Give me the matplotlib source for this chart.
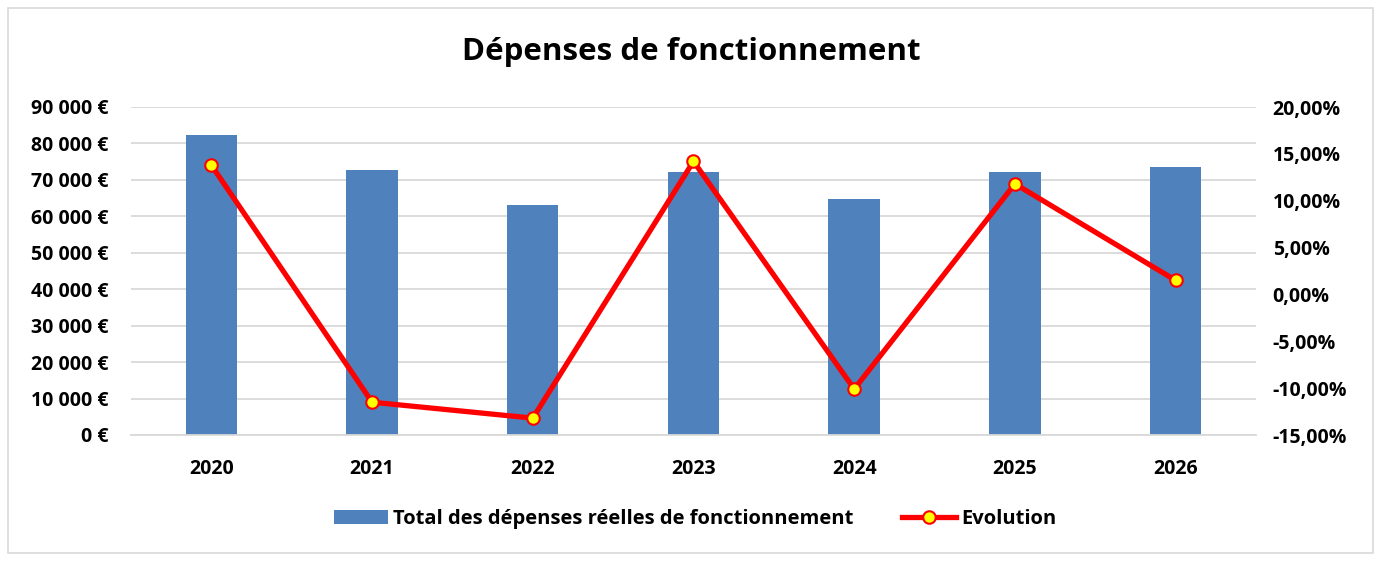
import matplotlib.pyplot as plt
from matplotlib.patches import Rectangle
from matplotlib.ticker import FuncFormatter, MultipleLocator

plt.rcParams['font.family'] = ['Open Sans', 'DejaVu Sans']
plt.rcParams['font.weight'] = 'bold'
plt.rcParams['font.stretch'] = 'normal'

# données
annees = ['2020', '2021', '2022', '2023', '2024', '2025', '2026']
depenses = [82300, 72700, 63100, 72200, 64800, 72200, 73500]
evolution = [13.8, -11.5, -13.2, 14.2, -10.1, 11.8, 1.5]

bleu = '#4f81bd'
gris = '#d9d9d9'

fig = plt.figure(figsize=(13.81, 5.61), dpi=100)
ax = fig.add_axes([131 / 1381, 1 - 435 / 561, 1125 / 1381, 328 / 561])

x = range(len(annees))
ax.bar(x, depenses, width=0.32, color=bleu, zorder=2,
       label='Total des dépenses réelles de fonctionnement')
ax.set_ylim(0, 90000)
ax.set_xlim(-0.5, len(annees) - 0.5)
ax.yaxis.set_major_locator(MultipleLocator(10000))
ax.yaxis.set_major_formatter(FuncFormatter(
    lambda v, p: f'{int(v):,} €'.replace(',', ' ')))
ax.grid(axis='y', color=gris, linewidth=1.3, zorder=0)
ax.set_xticks(list(x))
ax.set_xticklabels(annees)
for s in ax.spines.values():
    s.set_visible(False)
ax.spines['bottom'].set_visible(True)
ax.spines['bottom'].set_color(gris)
ax.spines['bottom'].set_linewidth(1.3)
ax.tick_params(length=0, labelsize=14)
ax.tick_params(axis='x', pad=17)
ax.tick_params(axis='y', pad=16)

ax2 = ax.twinx()
ax2.plot(x, evolution, color='#ff0000', linewidth=3.8, marker='o', markersize=9,
         markerfacecolor='#ffff00', markeredgecolor='#ff0000',
         markeredgewidth=1.5, zorder=3, label='Evolution')
ax2.set_ylim(-15, 20)
ax2.yaxis.set_major_locator(MultipleLocator(5))
ax2.yaxis.set_major_formatter(FuncFormatter(
    lambda v, p: f'{v:.2f}%'.replace('.', ',')))
for s in ax2.spines.values():
    s.set_visible(False)
ax2.tick_params(length=0, labelsize=14, pad=12)

fig.text(691 / 1381, 1 - 52 / 561, 'Dépenses de fonctionnement',
         ha='center', va='center', fontsize=22.5, fontweight='bold')

h1, l1 = ax.get_legend_handles_labels()
h2, l2 = ax2.get_legend_handles_labels()
fig.legend(h1 + h2, l1 + l2, loc='center', ncol=2, frameon=False,
           bbox_to_anchor=(695 / 1381, 1 - 519 / 561), fontsize=14.5,
           handlelength=2.7, columnspacing=2.4, handletextpad=0.25)

fig.patches.append(Rectangle((8 / 1381, 8 / 561), 1365 / 1381, 545 / 561,
                             transform=fig.transFigure, fill=False,
                             edgecolor=gris, linewidth=1.2))

fig.savefig('out.png', dpi=100)
